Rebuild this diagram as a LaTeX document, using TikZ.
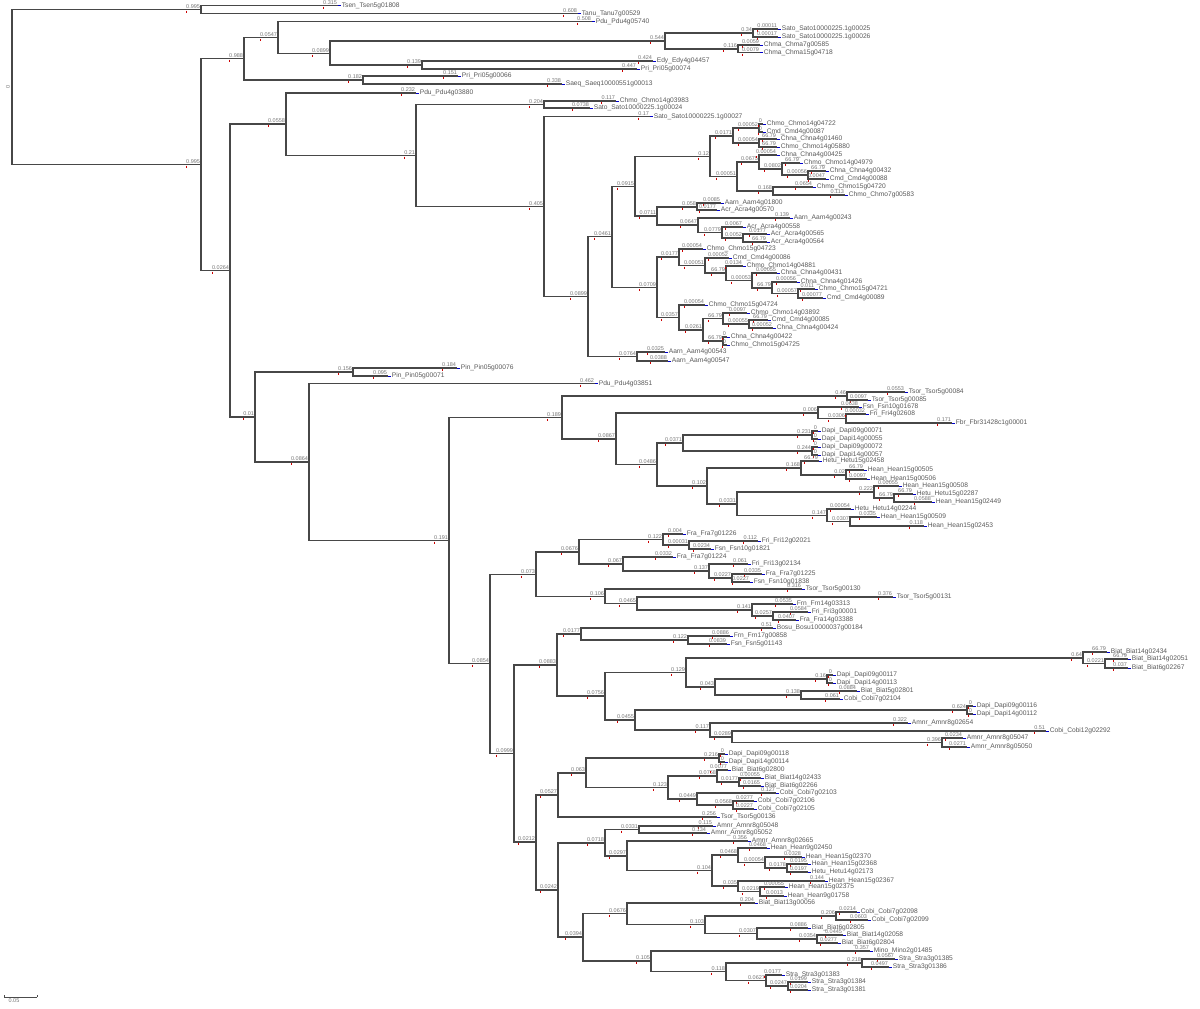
\documentclass[tikz,border=0pt]{standalone}
\usepackage{fontspec}
\setmainfont{Liberation Sans}
\usepackage{tikz}

\tikzset{
  br/.style={draw=black!72, line width=0.65pt},
  blen/.style={anchor=south east, inner sep=0.3pt, text=black!55, font=\fontsize{3.3}{3.5}\selectfont},
  gene/.style={anchor=west, inner sep=0.3pt, text=black!65, font=\fontsize{4}{4.5}\selectfont},
  tipmark/.style={draw=blue!80!black, line width=0.6pt},
  redtick/.style={draw=red!80!black, line width=0.5pt}
}

% parent, name, x, y, branch length
\newcommand\brnode[5]{%
  \coordinate (#2) at (#3,#4);
  \draw[br] (#1) |- (#2) node[blen] (#2-bl) {#5};
  \draw[redtick] ([shift={(1,1)}]#2-bl.south west) -- ++(0,2);
}
% parent, name, x, y, branch length, gene
\newcommand\brleaf[6]{%
  \brnode{#1}{#2}{#3}{#4}{#5}
  \draw[tipmark] (#2) -- ++(3,0);
  \node[gene] (#2-lab) at ([xshift=1.8pt]#2) {#6};
}

\begin{document}
\begin{tikzpicture}[x=0.6pt, y=-0.6pt]
\useasboundingbox (0,0) rectangle (1200,1008);

\coordinate (root) at (12,87);
\node[blen, rotate=90, anchor=center] (root-bl) at (8,87) {0};
\draw[redtick] (11,86) -- (11,89);

% top clades
\brnode{root}{a1}{201}{9.5}{0.995}
\brleaf{a1}{l1}{338}{5.5}{0.315}{Tsen\_Tsen5g01808}
\brleaf{a1}{l2}{578}{13.5}{0.608}{Tanu\_Tanu7g00529}
\brnode{root}{a2}{201}{164.5}{0.995}
\brnode{a2}{b1}{244}{58.5}{0.988}
\brnode{b1}{c1}{278}{37.5}{0.0547}
\brleaf{c1}{l3}{592}{21.5}{0.508}{Pdu\_Pdu4g05740}
\brnode{c1}{c3}{330}{53.5}{0.0899}
\brnode{c3}{d1}{665}{41}{0.544}
\brnode{d1}{e1}{753}{33}{0.34}
\brleaf{e1}{l4}{778}{29}{0.00011}{Sato\_Sato10000225.1g00025}
\brleaf{e1}{l5}{778}{37}{0.00017}{Sato\_Sato10000225.1g00026}
\brnode{d1}{e2}{738}{49}{0.116}
\brleaf{e2}{l6}{760}{45}{0.0059}{Chma\_Chma7g00585}
\brleaf{e2}{l7}{760}{52.5}{0.0079}{Chma\_Chma15g04718}
\brnode{c3}{d2}{422}{65}{0.139}
\brleaf{d2}{l8}{653}{61}{0.424}{Edy\_Edy4g04457}
\brleaf{d2}{l9}{637}{69}{0.447}{Pri\_Pri05g00074}
\brnode{b1}{c2}{363}{80}{0.182}
\brleaf{c2}{l10}{458}{76}{0.151}{Pri\_Pri05g00066}
\brleaf{c2}{l11}{562}{84}{0.338}{Saeq\_Saeq10000551g00013}

% Chmo clade
\brnode{a2}{b2}{230}{270.5}{0.0264}
\brnode{b2}{c4}{286}{124}{0.0558}
\brleaf{c4}{l12}{416}{93}{0.232}{Pdu\_Pdu4g03880}
\brnode{c4}{d3}{416}{155.5}{0.21}
\brnode{d3}{e3}{544}{104.5}{0.204}
\brleaf{e3}{l13}{616}{101}{0.117}{Chmo\_Chmo14g03983}
\brleaf{e3}{l14}{590}{108}{0.0738}{Sato\_Sato10000225.1g00024}
\brnode{d3}{e4}{544}{206.5}{0.405}
\brleaf{e4}{l15}{650}{116.5}{0.17}{Sato\_Sato10000225.1g00027}
\brnode{e4}{f1}{588}{296.6}{0.0899}
\brnode{f1}{g1}{612}{236.7}{0.0461}
\brnode{g1}{h1}{635}{186.5}{0.0915}
\brnode{h1}{i1}{710}{156.5}{0.12}
\brnode{i1}{j1}{733}{136}{0.0171}
\brnode{j1}{k1}{759}{128}{0.00052}
\brleaf{k1}{l16}{763}{124}{0}{Chmo\_Chmo14g04722}
\brleaf{k1}{l17}{763}{132}{0}{Cmd\_Cmd4g00087}
\brnode{j1}{k2}{759}{143}{0.00054}
\brleaf{k2}{l18}{777}{139}{66.79}{Chna\_Chna4g01460}
\brleaf{k2}{l19}{777}{147}{66.79}{Chmo\_Chmo14g05880}
\brnode{i1}{j2}{737}{176.5}{0.00051}
\brnode{j2}{k3}{759}{162}{0.0675}
\brleaf{k3}{l20}{777}{155}{0.00054}{Chna\_Chna4g00425}
\brnode{k3}{m1}{782}{169}{0.0802}
\brleaf{m1}{l21}{800}{163}{66.79}{Chmo\_Chmo14g04979}
\brnode{m1}{o1}{808}{175}{0.00056}
\brleaf{o1}{l22}{826}{171}{66.79}{Chna\_Chna4g00432}
\brleaf{o1}{l23}{826}{179}{0.0047}{Cmd\_Cmd4g00088}
\brnode{j2}{k4}{773}{191}{0.168}
\brleaf{k4}{l24}{813}{187}{0.0654}{Chmo\_Chmo15g04720}
\brleaf{k4}{l25}{845}{195}{0.113}{Chmo\_Chmo7g00583}
\brnode{h1}{i2}{657}{216}{0.0711}
\brnode{i2}{j3}{697}{207}{0.058}
\brleaf{j3}{l26}{721}{203}{0.0085}{Aarn\_Aarn4g01800}
\brleaf{j3}{l27}{717}{210}{0.0177}{Acr\_Acra4g00570}
\brnode{i2}{j4}{698}{225}{0.0647}
\brleaf{j4}{l28}{790}{218}{0.139}{Aarn\_Aarn4g00243}
\brnode{j4}{k5}{722}{232.5}{0.0779}
\brleaf{k5}{l29}{743}{227}{0.0067}{Acr\_Acra4g00558}
\brnode{k5}{m2}{743}{238}{0.0052}
\brleaf{m2}{l30}{767}{234}{0.0177}{Acr\_Acra4g00565}
\brleaf{m2}{l31}{767}{242}{66.79}{Acr\_Acra4g00564}
\brnode{g1}{h2}{657}{287.5}{0.0709}
\brnode{h2}{i3}{679}{257}{0.0177}
\brleaf{i3}{l32}{703}{249}{0.00054}{Chmo\_Chmo15g04723}
\brnode{i3}{j5}{705}{265.5}{0.00051}
\brleaf{j5}{l33}{729}{258}{0.00052}{Cmd\_Cmd4g00086}
\brnode{j5}{k6}{726}{273}{66.79}
\brleaf{k6}{l34}{743}{266}{0.0134}{Chmo\_Chmo14g04881}
\brnode{k6}{m3}{752}{280.5}{0.00053}
\brleaf{m3}{l35}{777}{273}{0.00055}{Chna\_Chna4g00431}
\brnode{m3}{o2}{772}{288}{66.79}
\brleaf{o2}{l36}{797}{282}{0.00056}{Chna\_Chna4g01426}
\brnode{o2}{q1}{798}{293.5}{0.00057}
\brleaf{q1}{l37}{815}{289}{0.011}{Chmo\_Chmo15g04721}
\brleaf{q1}{l38}{823}{298}{0.00077}{Cmd\_Cmd4g00089}
\brnode{h2}{i4}{679}{317.5}{0.0357}
\brleaf{i4}{l39}{705}{305}{0.00054}{Chmo\_Chmo15g04724}
\brnode{i4}{j6}{703}{330}{0.0261}
\brnode{j6}{k7}{723}{318.5}{66.79}
\brleaf{k7}{l40}{747}{313}{0.0097}{Chmo\_Chmo14g03892}
\brnode{k7}{m4}{749}{324}{0.00055}
\brleaf{m4}{l41}{768}{320}{66.79}{Cmd\_Cmd4g00085}
\brleaf{m4}{l42}{773}{328}{0.00052}{Chna\_Chna4g00424}
\brnode{j6}{k8}{723}{341}{66.79}
\brleaf{k8}{l43}{727}{337}{0}{Chna\_Chna4g00422}
\brleaf{k8}{l44}{727}{345}{0}{Chmo\_Chmo15g04725}
\brnode{f1}{g2}{637}{356.5}{0.0764}
\brleaf{g2}{l45}{665}{352}{0.0325}{Aarn\_Aarn4g00543}
\brleaf{g2}{l46}{668}{361}{0.0388}{Aarn\_Aarn4g00547}

% lower half
\brnode{b2}{c5}{255}{417}{0.01}
\brnode{c5}{d4}{353}{372}{0.156}
\brleaf{d4}{l47}{457}{368}{0.184}{Pin\_Pin05g00076}
\brleaf{d4}{l48}{388}{376}{0.095}{Pin\_Pin05g00071}
\brnode{c5}{d5}{309}{462}{0.0864}
\brleaf{d5}{l49}{595}{383.5}{0.462}{Pdu\_Pdu4g03851}
\brnode{d5}{e5}{449}{540.5}{0.191}
\brnode{e5}{f2}{562}{417.5}{0.189}
\brnode{f2}{g3}{847}{396}{0.46}
\brleaf{g3}{l50}{905}{392}{0.0553}{Tsor\_Tsor5g00084}
\brleaf{g3}{l51}{868}{400}{0.0097}{Tsor\_Tsor5g00085}
\brnode{f2}{g4}{616}{439}{0.0867}
\brnode{g4}{h3}{818}{413}{0.006}
\brleaf{h3}{l52}{859}{407}{0.0638}{Fsn\_Fsn10g01678}
\brnode{h3}{i5}{846}{418.5}{0.0306}
\brleaf{i5}{l53}{866}{414}{0.00032}{Fri\_Fri4g02608}
\brleaf{i5}{l54}{952}{423}{0.171}{Fbr\_Fbr31428c1g00001}
\brnode{g4}{h4}{657}{464.5}{0.0486}
\brnode{h4}{i6}{683}{443}{0.0371}
\brnode{i6}{j7}{812}{435}{0.231}
\brleaf{j7}{l55}{818}{431}{0}{Dapi\_Dapi09g00071}
\brleaf{j7}{l56}{818}{439}{0}{Dapi\_Dapi14g00055}
\brnode{i6}{j8}{812}{451}{0.244}
\brleaf{j8}{l57}{818}{447}{0}{Dapi\_Dapi09g00072}
\brleaf{j8}{l58}{818}{455}{0}{Dapi\_Dapi14g00057}
\brnode{h4}{i7}{707}{486}{0.102}
\brnode{i7}{j9}{801}{468}{0.168}
\brleaf{j9}{l59}{819}{461}{66.79}{Hetu\_Hetu15g02458}
\brnode{j9}{k9}{846}{475}{0.02}
\brleaf{k9}{l60}{864}{470}{66.79}{Hean\_Hean15g00505}
\brleaf{k9}{l61}{867}{479}{0.0097}{Hean\_Hean15g00506}
\brnode{i7}{j10}{737}{504}{0.0331}
\brnode{j10}{k10}{874}{492}{0.222}
\brleaf{k10}{l62}{899}{486}{0.00055}{Hean\_Hean15g00508}
\brnode{k10}{m5}{894}{498}{66.79}
\brleaf{m5}{l63}{913}{494}{66.79}{Hetu\_Hetu15g02287}
\brleaf{m5}{l64}{932}{502}{0.0588}{Hean\_Hean15g02449}
\brnode{j10}{k11}{827}{515.5}{0.147}
\brleaf{k11}{l65}{851}{509}{0.00054}{Hetu\_Hetu14g02244}
\brnode{k11}{m6}{850}{521.5}{0.0307}
\brleaf{m6}{l66}{877}{517}{0.0335}{Hean\_Hean15g00509}
\brleaf{m6}{l67}{924}{526}{0.118}{Hean\_Hean15g02453}

\brnode{e5}{f3}{490}{663.5}{0.0854}
\brnode{f3}{g5}{536}{574.5}{0.073}
\brnode{g5}{h5}{579}{552}{0.0676}
\brnode{h5}{i8}{663}{539.5}{0.122}
\brleaf{i8}{l68}{683}{534}{0.004}{Fra\_Fra7g01226}
\brnode{i8}{j11}{689}{545}{0.00031}
\brleaf{j11}{l69}{758}{541}{0.112}{Fri\_Fri12g02021}
\brleaf{j11}{l70}{711}{549}{0.0234}{Fsn\_Fsn10g01821}
\brnode{h5}{i9}{623}{564}{0.067}
\brleaf{i9}{l71}{673}{557}{0.0332}{Fra\_Fra7g01224}
\brnode{i9}{j12}{709}{571}{0.137}
\brleaf{j12}{l72}{748}{564}{0.061}{Fri\_Fri13g02134}
\brnode{j12}{k12}{732}{578}{0.0227}
\brleaf{k12}{l73}{762}{574}{0.0335}{Fra\_Fra7g01225}
\brleaf{k12}{l74}{750}{582}{0.0227}{Fsn\_Fsn10g01838}
\brnode{g5}{h6}{605}{596.5}{0.106}
\brleaf{h6}{l75}{802}{589}{0.316}{Tsor\_Tsor5g00130}
\brnode{h6}{i10}{637}{603.5}{0.0465}
\brleaf{i10}{l76}{893}{597}{0.376}{Tsor\_Tsor5g00131}
\brnode{i10}{j13}{752}{610}{0.141}
\brleaf{j13}{l77}{793}{604}{0.0535}{Frn\_Frn14g03313}
\brnode{j13}{k13}{773}{616}{0.0257}
\brleaf{k13}{l78}{808}{612}{0.0584}{Fri\_Fri3g00001}
\brleaf{k13}{l79}{796}{620}{0.0407}{Fra\_Fra14g03388}

\brnode{f3}{g6}{514}{753.5}{0.0999}
\brnode{g6}{h7}{557}{665}{0.0883}
\brnode{h7}{i11}{581}{634}{0.0177}
\brleaf{i11}{l80}{773}{628}{0.51}{Bosu\_Bosu10000037g00184}
\brnode{i11}{j14}{688}{640}{0.122}
\brleaf{j14}{l81}{730}{636}{0.0886}{Frn\_Frn17g00858}
\brleaf{j14}{l82}{727}{644}{0.0839}{Fsn\_Fsn5g01143}
\brnode{h7}{i12}{605}{696}{0.0756}
\brnode{i12}{j15}{686}{672.5}{0.129}
\brnode{j15}{k14}{1083}{658}{0.64}
\brleaf{k14}{l83}{1107}{652}{66.79}{Biat\_Biat14g02434}
\brnode{k14}{m7}{1105}{663.5}{0.0221}
\brleaf{m7}{l84}{1128}{659}{66.79}{Biat\_Biat14g02051}
\brleaf{m7}{l85}{1128}{668}{0.037}{Biat\_Biat6g02267}
\brnode{j15}{k15}{715}{687}{0.043}
\brnode{k15}{m8}{827}{679}{0.16}
\brleaf{m8}{l86}{833}{675}{0}{Dapi\_Dapi09g00117}
\brleaf{m8}{l87}{833}{683}{0}{Dapi\_Dapi14g00113}
\brnode{k15}{m9}{801}{695}{0.138}
\brleaf{m9}{l88}{857}{691}{0.0884}{Biat\_Biat5g02801}
\brleaf{m9}{l89}{840}{699}{0.061}{Cobi\_Cobi7g02104}
\brnode{i12}{j16}{635}{720}{0.0455}
\brnode{j16}{k16}{967}{710}{0.624}
\brleaf{k16}{l90}{973}{706}{0}{Dapi\_Dapi09g00116}
\brleaf{k16}{l91}{973}{714}{0}{Dapi\_Dapi14g00112}
\brnode{j16}{k17}{710}{730}{0.117}
\brleaf{k17}{l92}{908}{723}{0.322}{Amnr\_Amnr8g02654}
\brnode{k17}{m10}{732}{737}{0.0289}
\brleaf{m10}{l93}{1046}{731}{0.51}{Cobi\_Cobi12g02292}
\brnode{m10}{o3}{942}{742.5}{0.396}
\brleaf{o3}{l94}{963}{738}{0.0234}{Amnr\_Amnr8g05047}
\brleaf{o3}{l95}{967}{747}{0.0271}{Amnr\_Amnr8g05050}

\brnode{g6}{h8}{536}{842}{0.0212}
\brnode{h8}{i13}{558}{795}{0.0527}
\brnode{i13}{j17}{586}{773}{0.063}
\brnode{j17}{k18}{719}{758}{0.216}
\brleaf{k18}{l96}{725}{754}{0}{Dapi\_Dapi09g00118}
\brleaf{k18}{l97}{725}{762}{0}{Dapi\_Dapi14g00114}
\brnode{j17}{k19}{668}{787.5}{0.123}
\brnode{k19}{m11}{717}{776}{0.0768}
\brleaf{m11}{l98}{728}{770}{0.0077}{Biat\_Biat6g02800}
\brnode{m11}{o4}{739}{782}{0.0177}
\brleaf{o4}{l99}{761}{778}{0.00055}{Biat\_Biat14g02433}
\brleaf{o4}{l100}{761}{786}{0.0165}{Biat\_Biat6g02266}
\brnode{k19}{m12}{697}{799}{0.0449}
\brleaf{m12}{l101}{776}{793}{0.127}{Cobi\_Cobi7g02103}
\brnode{m12}{o5}{733}{805}{0.0568}
\brleaf{o5}{l102}{754}{801}{0.0277}{Cobi\_Cobi7g02106}
\brleaf{o5}{l103}{754}{809}{0.0227}{Cobi\_Cobi7g02105}
\brleaf{i13}{l104}{717}{817}{0.256}{Tsor\_Tsor5g00136}
\brnode{h8}{i14}{558}{890}{0.0242}
\brnode{i14}{j18}{605}{843}{0.0718}
\brnode{j18}{k20}{639}{829.5}{0.0331}
\brleaf{k20}{l105}{713}{826}{0.115}{Amnr\_Amnr8g05048}
\brleaf{k20}{l106}{707}{833}{0.134}{Amnr\_Amnr8g05052}
\brnode{j18}{k21}{627}{856}{0.0297}
\brleaf{k21}{l107}{748}{841}{0.356}{Amnr\_Amnr8g02665}
\brnode{k21}{m13}{712}{870.5}{0.104}
\brnode{m13}{o6}{738}{855}{0.0468}
\brleaf{o6}{l108}{767}{848}{0.0468}{Hean\_Hean9g02450}
\brnode{o6}{q2}{765}{862.5}{0.00054}
\brleaf{q2}{l109}{802}{857}{0.0328}{Hean\_Hean15g02370}
\brnode{q2}{r1}{787}{868}{0.0178}
\brleaf{r1}{l110}{808}{864}{0.0195}{Hean\_Hean15g02368}
\brleaf{r1}{l111}{808}{872}{0.0197}{Hetu\_Hetu14g02173}
\brnode{m13}{o7}{738}{886}{0.035}
\brleaf{o7}{l112}{825}{881}{0.144}{Hean\_Hean15g02367}
\brnode{o7}{q3}{760}{891.5}{0.0219}
\brleaf{q3}{l113}{785}{887}{0.00055}{Hean\_Hean15g02375}
\brleaf{q3}{l114}{784}{896}{0.0013}{Hean\_Hean9g01758}
\brnode{i14}{j19}{583}{937}{0.0394}
\brnode{j19}{k22}{627}{913.5}{0.0676}
\brleaf{k22}{l115}{755}{903}{0.204}{Biat\_Biat13g00056}
\brnode{k22}{m14}{705}{924.5}{0.103}
\brnode{m14}{o8}{836}{916}{0.206}
\brleaf{o8}{l116}{857}{912}{0.0214}{Cobi\_Cobi7g02098}
\brleaf{o8}{l117}{868}{920}{0.0603}{Cobi\_Cobi7g02099}
\brnode{m14}{o9}{757}{933.5}{0.0307}
\brleaf{o9}{l118}{808}{928}{0.0886}{Biat\_Biat6g02805}
\brnode{o9}{q4}{817}{939}{0.0354}
\brleaf{q4}{l119}{843}{935}{0.0445}{Biat\_Biat14g02058}
\brleaf{q4}{l120}{838}{943}{0.0277}{Biat\_Biat6g02804}
\brnode{j19}{k23}{651}{961}{0.105}
\brleaf{k23}{l121}{870}{951}{0.357}{Mino\_Mino2g01485}
\brnode{k23}{m15}{726}{971.5}{0.118}
\brnode{m15}{o10}{862}{963}{0.218}
\brleaf{o10}{l122}{895}{959}{0.0567}{Stra\_Stra3g01385}
\brleaf{o10}{l123}{889}{967}{0.0497}{Stra\_Stra3g01386}
\brnode{m15}{o11}{766}{980.5}{0.0627}
\brleaf{o11}{l124}{782}{975}{0.0177}{Stra\_Stra3g01383}
\brnode{o11}{q5}{788}{986}{0.0247}
\brleaf{q5}{l125}{808}{982}{0.0199}{Stra\_Stra3g01384}
\brleaf{q5}{l126}{808}{990}{0.0204}{Stra\_Stra3g01381}

% scale bar
\coordinate (sb1) at (4,997);
\coordinate (sb2) at (37,997);
\draw[black!70, line width=0.4pt] (sb1) -- (sb2);
\draw[black!70, line width=0.4pt] (sb1) -- ++(0,-2) (sb2) -- ++(0,-2);
\node[blen, anchor=north] (sb) at (14,998) {0.05};
\end{tikzpicture}
\end{document}
